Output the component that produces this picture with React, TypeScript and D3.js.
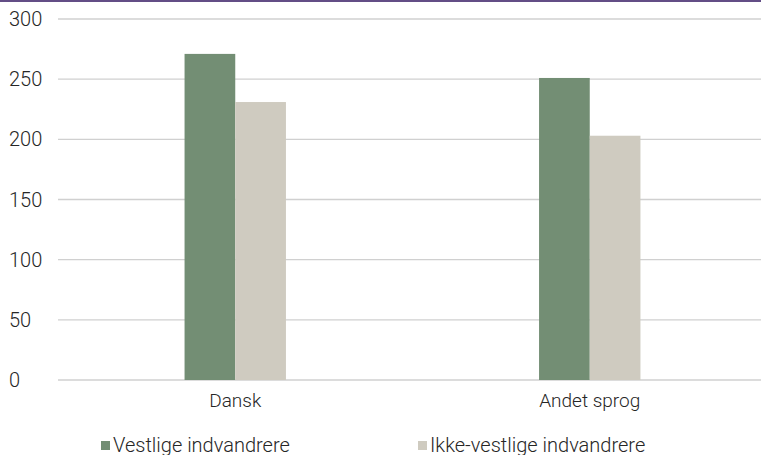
import React from "react";
import * as d3 from "d3";

const categories = ["Dansk", "Andet sprog"];
const seriesNames = ["Vestlige indvandrere", "Ikke-vestlige indvandrere"];
const vestlige = [271, 251];
const ikkeVestlige = [231, 203];
const yTicks = [0, 50, 100, 150, 200, 250, 300];

const colors = ["#738e74", "#cfcbc0"];
const font = "Roboto, 'Liberation Sans', sans-serif";

export default function App() {
  const W = 761, H = 455;
  const left = 58, right = 767, top = 19, bottom = 380;
  const x = d3.scaleBand<string>().domain(categories).range([left, right]);
  const y = d3.scaleLinear().domain([0, 300]).range([bottom, top]);
  const barW = x.bandwidth() * 0.143;
  const series = [vestlige, ikkeVestlige];
  const legendX = [101, 418];
  return (
    <svg width={W} height={H} style={{ position: "absolute", left: 0, top: 0 }}>
      <rect x={0} y={0} width={W} height={H} fill="#fff" />
      <rect x={0} y={0} width={W} height={2} fill="#634e86" />
      {yTicks.map((t) => (
        <g key={t}>
          <line x1={left} x2={W} y1={y(t)} y2={y(t)} stroke="#d0d0d0" strokeWidth={1.4} />
          <text x={9} y={y(t) + 7} fontFamily={font} fontWeight={300} fontSize={20} fill="#262626">
            {t}
          </text>
        </g>
      ))}
      {categories.map((c, i) => {
        const cx = x(c)! + x.bandwidth() / 2;
        return (
          <g key={c}>
            {series.map((s, j) => (
              <rect
                key={j}
                x={cx - barW + j * barW}
                y={y(s[i])}
                width={barW}
                height={bottom - y(s[i])}
                fill={colors[j]}
              />
            ))}
            <text x={cx} y={407} textAnchor="middle" fontFamily={font} fontWeight={300} fontSize={19} fill="#262626">
              {c}
            </text>
          </g>
        );
      })}
      {seriesNames.map((n, j) => {
        const lx = legendX[j];
        return (
          <g key={n}>
            <rect x={lx} y={441} width={9} height={9} fill={colors[j]} />
            <text x={lx + 12} y={452} fontFamily={font} fontWeight={300} fontSize={20} fill="#262626">
              {n}
            </text>
          </g>
        );
      })}
    </svg>
  );
}
